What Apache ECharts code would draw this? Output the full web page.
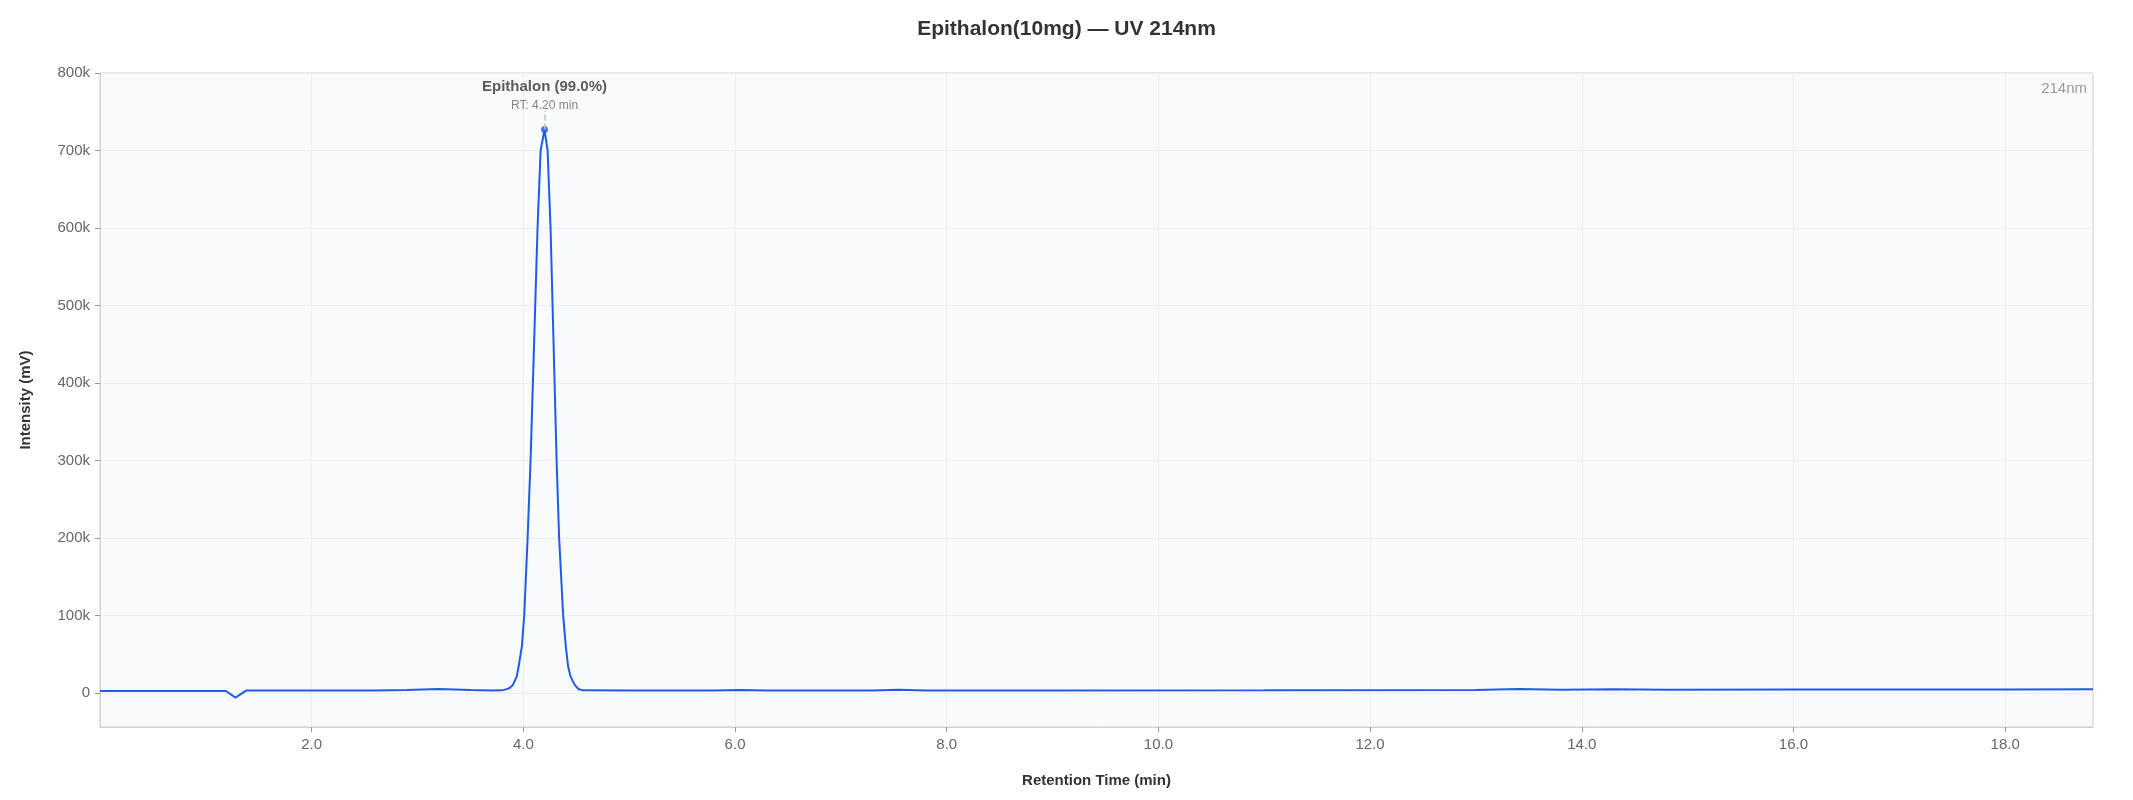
<!DOCTYPE html>
<html>
<head>
<meta charset="utf-8">
<script src="https://cdn.jsdelivr.net/npm/echarts@6/dist/echarts.min.js"></script>
<style>
html,body{margin:0;padding:0;background:#fff;}
#chart{width:2133px;height:800px;}
</style>
</head>
<body>
<div id="chart"></div>
<script>
// Retention times (min)
var times = [0.0, 0.5, 1.0, 1.19, 1.28, 1.38, 2.0, 2.6, 2.9, 3.2, 3.5, 3.7, 3.80, 3.86, 3.90, 3.937, 3.955, 3.986, 4.008, 4.040, 4.068, 4.090, 4.112, 4.134, 4.163, 4.20, 4.229, 4.257, 4.276, 4.295, 4.314, 4.338, 4.376, 4.401, 4.423, 4.446, 4.486, 4.52, 4.56, 5.0, 5.8, 6.05, 6.3, 7.3, 7.55, 7.8, 9.0, 11.0, 13.0, 13.4, 13.8, 14.3, 14.8, 16.0, 18.0, 18.83];
// Intensity (mV)
var intensity = [2500, 2500, 2500, 2500, -6000, 3000, 3000, 3200, 3800, 5000, 3800, 3200, 3300, 5500, 10000, 21000, 34000, 60000, 100000, 200000, 300000, 400000, 500000, 600000, 700000, 727000, 700000, 600000, 500000, 400000, 300000, 200000, 100000, 60000, 34000, 21000, 10000, 5000, 3300, 3000, 3000, 3800, 3000, 3000, 4200, 3200, 3200, 3400, 3800, 5000, 4000, 4700, 4200, 4400, 4500, 4600];
// Peak annotation
var peakName = ['Epithalon (99.0%)'];
var peakRT = [4.20];
var peakHeight = [727000];
var peakLineTop = [752000];
// Axis ticks
var xTicks = [2, 4, 6, 8, 10, 12, 14, 16, 18];
var yTicks = [0, 100000, 200000, 300000, 400000, 500000, 600000, 700000, 800000];

var lineData = times.map(function (t, i) { return [t, intensity[i]]; });

var chart = echarts.init(document.getElementById('chart'), null, {renderer: 'canvas'});
var font = 'Liberation Sans, Arial, sans-serif';
chart.setOption({
  animation: false,
  textStyle: {fontFamily: font},
  title: [
    {text: 'Epithalon(10mg) — UV 214nm', left: 'center', top: 14,
     textStyle: {fontSize: 21, fontWeight: 'bold', color: '#333', fontFamily: font}},
    {text: '214nm', right: 41, top: 76,
     textStyle: {fontSize: 15, fontWeight: 'normal', color: '#999', fontFamily: font}}
  ],
  grid: {left: 100, right: 40, top: 73, bottom: 73, show: true,
         backgroundColor: '#f9fafc', borderColor: '#d0d0d0', borderWidth: 1},
  xAxis: {
    type: 'value', min: 0, max: 18.83, splitNumber: 9,
    name: 'Retention Time (min)', nameLocation: 'middle', nameGap: 46,
    nameTextStyle: {fontSize: 15, fontWeight: 'bold', color: '#333'},
    axisLine: {show: true, onZero: false, lineStyle: {color: '#d0d0d0'}},
    axisTick: {show: true, customValues: xTicks, length: 5, lineStyle: {color: '#999'}},
    axisLabel: {customValues: xTicks, fontSize: 15, color: '#666', margin: 10,
                formatter: function (v) { return v.toFixed(1); }},
    splitLine: {show: true, lineStyle: {color: '#eceef1', width: 1}}
  },
  yAxis: {
    type: 'value', min: -44000, max: 800000, splitNumber: 8,
    name: 'Intensity (mV)', nameLocation: 'middle', nameGap: 67,
    nameTextStyle: {fontSize: 15, fontWeight: 'bold', color: '#333'},
    axisLine: {show: true, onZero: false, lineStyle: {color: '#d0d0d0'}},
    axisTick: {show: true, customValues: yTicks, length: 5, lineStyle: {color: '#999'}},
    axisLabel: {customValues: yTicks, fontSize: 15, color: '#666', margin: 10,
                formatter: function (v) { return v === 0 ? '0' : (v / 1000) + 'k'; }},
    splitLine: {show: true, lineStyle: {color: '#eceef1', width: 1}}
  },
  series: [
    {
      type: 'line', data: lineData, showSymbol: false, smooth: false,
      lineStyle: {color: '#1f5be6', width: 2}, itemStyle: {color: '#1f5be6'}, z: 3
    },
    {
      type: 'scatter', data: [[peakRT[0], peakHeight[0]]], symbolSize: 7,
      itemStyle: {color: '#1f5be6'}, z: 4,
      label: {
        show: true, position: 'top', distance: 11,
        formatter: '{a|' + peakName[0] + '}\n{b|RT: ' + peakRT[0].toFixed(2) + ' min}',
        rich: {
          a: {fontSize: 15, fontWeight: 'bold', color: '#333', lineHeight: 20, align: 'center'},
          b: {fontSize: 12, color: '#666', lineHeight: 18, align: 'center'}
        }
      },
      markLine: {
        silent: true, symbol: 'none', label: {show: false},
        lineStyle: {type: 'dashed', color: '#c0c0c0', width: 1.5},
        data: [[{coord: [peakRT[0], peakHeight[0]]}, {coord: [peakRT[0], peakLineTop[0]]}]]
      }
    }
  ]
});
</script>
</body>
</html>
